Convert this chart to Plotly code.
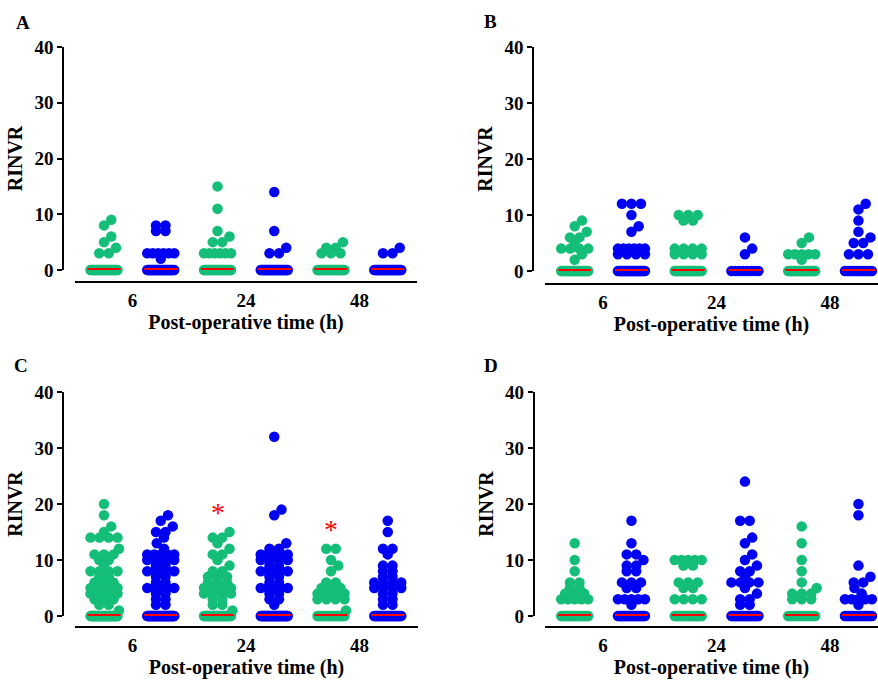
import numpy as np
import plotly.graph_objects as go

# ---------------- data (RINVR values) ----------------
TIME_LABELS = ["6", "24", "48"]

# non-zero observations per time point (6 h, 24 h, 48 h); zeros given as counts
A_green = [[3, 3, 4, 5, 6, 8, 9], [3, 3, 3, 3, 3, 3, 5, 5, 6, 7, 11, 15], [3, 3, 3, 4, 4, 5]]
A_blue = [[2, 3, 3, 3, 3, 3, 3, 7, 7, 8, 8], [3, 3, 4, 7, 14], [3, 3, 4]]
A_green_zeros = [30, 30, 30]
A_blue_zeros = [30, 30, 30]

B_green = [[2, 3, 4, 4, 4, 4, 5, 6, 6, 7, 8, 9], [3, 3, 3, 3, 4, 4, 4, 4, 9, 9, 10, 10, 10], [2, 3, 3, 3, 3, 3, 5, 6]]
B_blue = [[3, 3, 3, 3, 4, 4, 4, 4, 4, 4, 7, 8, 10, 12, 12, 12], [3, 4, 6], [3, 3, 3, 5, 5, 6, 7, 9, 11, 12]]
B_green_zeros = [25, 25, 25]
B_blue_zeros = [25, 8, 14]

C_green = [[20, 18, 16, 15, 14, 14, 14, 14, 12, 11, 11, 11, 10, 10, 9, 8, 8, 8, 8, 7, 7, 6, 6, 6,
            5, 5, 5, 5, 4, 4, 4, 4, 4, 3, 3, 3, 2, 2, 1],
           [15, 14, 14, 13, 12, 11, 11, 10, 9, 8, 8, 7, 7, 7, 6, 6, 6, 5, 5, 5, 5, 4, 4, 4, 4, 3, 3, 2, 2, 1],
           [12, 12, 10, 9, 8, 6, 6, 5, 5, 5, 4, 4, 4, 4, 3, 3, 3, 3, 1]]
C_blue = [[18, 17, 16, 15, 15, 14, 13, 12, 11, 11, 11, 11, 11, 10, 10, 10, 10, 10, 9, 9, 8, 8, 8, 8, 8,
           7, 7, 6, 6, 5, 5, 5, 5, 5, 4, 4, 3, 3, 2, 2],
          [32, 19, 18, 13, 12, 12, 11, 11, 11, 11, 11, 10, 10, 10, 10, 9, 9, 8, 8, 8, 8, 8, 7, 7, 6, 6,
           5, 5, 5, 5, 5, 4, 4, 3, 3, 2],
          [17, 15, 12, 12, 11, 9, 9, 8, 8, 7, 7, 6, 6, 6, 6, 5, 5, 5, 5, 4, 4, 3, 3, 2, 2]]
C_green_zeros = [45, 35, 25]
C_blue_zeros = [45, 40, 30]
C_green_signif = [False, True, True]

D_green = [[3, 3, 3, 3, 3, 4, 4, 4, 5, 5, 6, 6, 8, 10, 13],
           [3, 3, 3, 3, 5, 5, 6, 6, 6, 9, 9, 10, 10, 10, 10, 10],
           [3, 3, 3, 4, 4, 4, 5, 6, 8, 10, 13, 16]]
D_blue = [[2, 3, 3, 3, 3, 3, 5, 5, 6, 6, 6, 8, 8, 9, 9, 10, 11, 11, 13, 17],
          [2, 2, 3, 3, 4, 5, 6, 6, 6, 6, 7, 8, 8, 9, 10, 11, 13, 14, 17, 17, 24],
          [2, 3, 3, 3, 3, 3, 4, 5, 6, 6, 7, 9, 18, 20]]
D_green_zeros = [25, 25, 15]
D_blue_zeros = [25, 25, 18]

# ---------------- styling / layout ----------------
W, H = 878, 682
GREEN = "#14BE78"
BLUE = "#0000F2"
RED = "#FF0000"
FONT = "Liberation Serif"
PXX = 56.75          # pixels per x unit (group spacing)
PXY = 5.58           # pixels per y unit


def fx(px):
    return px / W


def fy(py):
    return 1 - py / H


def swarm(values, D=9.0, row_max=27.0, lim=15.0):
    """Simple beeswarm layout computed in pixel space; returns x offsets (data units) and values."""
    vals = np.sort(np.asarray(values, float))
    placed, ox, oy = [], [], []
    uniq, counts = np.unique(vals, return_counts=True)
    cand = np.arange(-lim, lim + 1e-9, 0.25)
    cand = cand[np.lexsort((-cand, np.abs(cand)))]
    for v, n in zip(uniq, counts):
        y = v * PXY
        if n >= 2:
            sp = min(9.5, row_max / (n - 1))
            w = (n - 1) * sp
            xs = list(np.linspace(-w / 2, w / 2, n))
        elif placed:
            P = np.array(placed)
            d = np.sqrt((cand[:, None] - P[None, :, 0]) ** 2 + (y - P[None, :, 1]) ** 2).min(axis=1)
            ok = np.where(d >= D)[0]
            xs = [cand[ok[0]] if len(ok) else cand[np.argmax(d)]]
        else:
            xs = [0.0]
        for x in xs:
            placed.append((x, y))
            ox.append(x / PXX)
            oy.append(v)
    return ox, oy


panels = [
    dict(name="A", green=A_green, blue=A_blue, gz=A_green_zeros, bz=A_blue_zeros,
         xdom=(75, 417), ydom=(47, 270), xline=282, yline=63, c1=104, letter=(23, 23)),
    dict(name="B", green=B_green, blue=B_blue, gz=B_green_zeros, bz=B_blue_zeros,
         xdom=(545, 878), ydom=(47, 271), xline=284, yline=533, c1=574.7, letter=(490, 22)),
    dict(name="C", green=C_green, blue=C_blue, gz=C_green_zeros, bz=C_blue_zeros,
         xdom=(75, 418), ydom=(392, 616), xline=627, yline=63, c1=104, letter=(21, 365),
         signif=C_green_signif),
    dict(name="D", green=D_green, blue=D_blue, gz=D_green_zeros, bz=D_blue_zeros,
         xdom=(545, 878), ydom=(392, 616), xline=627, yline=533.5, c1=574.7, letter=(491, 365)),
]

fig = go.Figure()
annotations = []
layout = {}

for k, p in enumerate(panels):
    sfx = "" if k == 0 else str(k + 1)
    xa, ya = "x" + sfx, "y" + sfx
    med_x, med_y = [], []
    for series, zeros, color, s in ((p["green"], p["gz"], GREEN, 0), (p["blue"], p["bz"], BLUE, 1)):
        xs, ys = [], []
        for t in range(3):
            vals = list(series[t]) + [0] * zeros[t]
            pos = 2 * t + s + 1
            ox, oy = swarm(vals)
            xs += [pos + o for o in ox]
            ys += oy
            m = float(np.median(vals))
            med_x += [pos - 0.29, pos + 0.29, None]
            med_y += [m, m, None]
            if s == 0 and p.get("signif") and p["signif"][t]:
                annotations.append(dict(x=pos, y=max(vals), xref=xa, yref=ya, text="*",
                                        showarrow=False, yanchor="bottom", yshift=2,
                                        font=dict(family=FONT, size=28, color=RED)))
        fig.add_trace(go.Scatter(x=xs, y=ys, mode="markers", xaxis=xa, yaxis=ya,
                                 marker=dict(size=10.5, color=color, line=dict(width=0)),
                                 cliponaxis=False, showlegend=False, hoverinfo="y"))
    fig.add_trace(go.Scatter(x=med_x, y=med_y, mode="lines", xaxis=xa, yaxis=ya,
                             line=dict(color=RED, width=4), cliponaxis=False,
                             showlegend=False, hoverinfo="skip"))

    left = 1 + (p["xdom"][0] - p["c1"]) / PXX
    right = left + (p["xdom"][1] - p["xdom"][0]) / PXX
    layout["xaxis" + sfx] = dict(
        domain=[fx(p["xdom"][0]), fx(p["xdom"][1])], range=[left, right],
        anchor="free", position=fy(p["xline"]), automargin=False,
        showline=True, linecolor="black", linewidth=1.8, showgrid=False, zeroline=False,
        tickvals=[1.5, 3.5, 5.5], ticktext=TIME_LABELS, ticks="", ticklabelstandoff=1,
        tickfont=dict(family=FONT, size=19, color="black", weight="bold"),
        title=dict(text="Post-operative time (h)", standoff=4,
                   font=dict(family=FONT, size=20, color="black", weight="bold")),
        fixedrange=True)
    layout["yaxis" + sfx] = dict(
        domain=[fy(p["ydom"][1]), fy(p["ydom"][0])], range=[0, 40],
        anchor="free", position=fx(p["yline"]), automargin=False,
        showline=True, linecolor="black", linewidth=1.5, showgrid=False, zeroline=False,
        tickvals=[0, 10, 20, 30, 40], ticks="outside", ticklen=5, tickwidth=1.5, tickcolor="black",
        tickfont=dict(family=FONT, size=19, color="black", weight="bold"),
        title=dict(text="RINVR", standoff=5,
                   font=dict(family=FONT, size=20, color="black", weight="bold")),
        fixedrange=True)
    annotations.append(dict(x=fx(p["letter"][0]), y=fy(p["letter"][1]), xref="paper", yref="paper",
                            text=p["name"], showarrow=False, xanchor="center", yanchor="middle",
                            font=dict(family=FONT, size=19, color="black", weight="bold")))

fig.update_layout(width=W, height=H, margin=dict(l=0, r=0, t=0, b=0, autoexpand=False),
                  paper_bgcolor="white", plot_bgcolor="white",
                  showlegend=False, annotations=annotations, **layout)

# remove the browser's default 8px body margin so the figure fills the window exactly
fig.write_html("out.html", config={"displayModeBar": False},
               post_script="document.body.style.margin='0';document.body.style.overflow='hidden';")
